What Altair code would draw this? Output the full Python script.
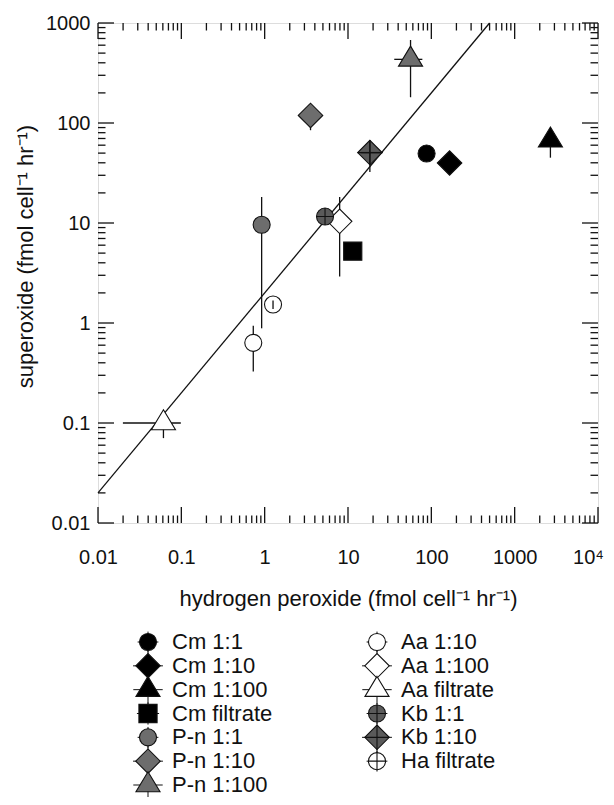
import altair as alt
import pandas as pd

# ---- data ----
labels = ["Cm 1:1", "Cm 1:10", "Cm 1:100", "Cm filtrate",
          "P-n 1:1", "P-n 1:10", "P-n 1:100",
          "Aa 1:10", "Aa 1:100", "Aa filtrate",
          "Kb 1:1", "Kb 1:10", "Ha filtrate"]
h2o2 = [87.7, 165.6, 2685, 11.4, 0.92, 3.55, 56.3, 0.73, 7.94, 0.061, 5.3, 18.3, 1.26]
superox = [49.5, 39.8, 67.3, 5.23, 9.6, 119, 433, 0.633, 10.4, 0.1, 11.6, 50.6, 1.53]
h2o2_lo = [None, None, None, None, None, None, 35.9, None, None, 0.0199, None, 14.4, None]
h2o2_hi = [None, None, None, None, None, None, 78.0, None, None, 0.0986, None, 26.0, None]
sup_lo = [None, None, 45.0, None, 0.885, 84.7, 181, 0.328, 2.92, 0.0706, None, 32.4, 1.38]
sup_hi = [None, None, 67.3, None, 18.2, 119, 676, 0.94, 18.2, 0.1, None, 67.2, 1.68]

fit_x = [0.01, 500]
fit_y = [0.02, 1000]

x_major = [0.01, 0.1, 1, 10, 100, 1000, 10000]
y_major = [0.01, 0.1, 1, 10, 100, 1000]
x_minor = [m * 10.0 ** e for e in range(-2, 4) for m in range(2, 10)]
y_minor = [m * 10.0 ** e for e in range(-2, 3) for m in range(2, 10)]

# ---- styles ----
INK = "#111111"
TRI = "M0,-1.1L1,0.56L-1,0.56Z"
CROSS = "M-1,0L1,0M0,-1L0,1"
STUB = "M0,-1.22L0,1.22M-1.22,0L1.22,0"
shape_of = {"circle": "circle", "diamond": "diamond", "triangle": TRI, "square": "square"}
size_of = {"circle": 290, "diamond": 600, "triangle": 580, "square": 330}
kinds = ["circle", "diamond", "triangle", "square", "circle", "diamond", "triangle",
         "circle", "diamond", "triangle", "circle", "diamond", "circle"]
fills = ["#000000"] * 4 + ["#6d6d6d"] * 3 + ["#ffffff"] * 3 + ["#5a5a5a"] * 2 + ["#ffffff"]

shape_scale = alt.Scale(domain=labels, range=[shape_of[k] for k in kinds])
fill_scale = alt.Scale(domain=labels, range=fills)
SIZE_EXPR = "[{}][indexof([{}], datum.label)]".format(
    ",".join(str(size_of[k]) for k in kinds),
    ",".join("'" + s + "'" for s in labels))

W, H = 500, 500
FONT = "Liberation Sans"

df = pd.DataFrame({"label": labels, "hp": h2o2, "so": superox,
                   "hlo": h2o2_lo, "hhi": h2o2_hi, "slo": sup_lo, "shi": sup_hi})
on_top = ["Kb 1:1", "Kb 1:10", "Ha filtrate"]
df["top"] = df["label"].isin(on_top)

xs = alt.Scale(type="log", domain=[0.01, 10000], nice=False)
ys = alt.Scale(type="log", domain=[0.01, 1000], nice=False)

x_axis = alt.Axis(values=x_major, ticks=False, tickSize=0, domain=False, grid=False,
                  labelExpr="datum.value >= 10000 ? '10⁴' : format(datum.value, '~g')",
                  labelOffset={"condition": {"test": "datum.value >= 10000", "value": -10},
                               "value": 0},
                  labelFontSize=20, labelPadding=24, labelFlush=False, labelOverlap=False,
                  labelColor=INK, title="hydrogen peroxide (fmol cell⁻¹ hr⁻¹)",
                  titleFontSize=22, titleFontWeight="normal", titleColor=INK, titlePadding=21)
y_axis = alt.Axis(values=y_major, ticks=False, tickSize=0, domain=False, grid=False,
                  labelExpr="format(datum.value, '~g')",
                  labelFontSize=20, labelPadding=8, labelFlush=False, labelOverlap=False,
                  labelColor=INK, title="superoxide (fmol cell⁻¹ hr⁻¹)",
                  titleFontSize=22, titleFontWeight="normal", titleColor=INK, titlePadding=8,
                  titleY=233)

X = lambda f: alt.X(f, scale=xs, axis=x_axis)
Y = lambda f: alt.Y(f, scale=ys, axis=y_axis)
SZ = alt.Size("sz:Q", scale=None, legend=None)

base = alt.Chart(df)

vbars = df.dropna(subset=["slo"])
hbars = df.dropna(subset=["hlo"])


def vbar_layer(top):
    d = vbars[vbars["top"] == top]
    return alt.Chart(d).mark_rule(color=INK, strokeWidth=1.3).encode(
        x=X("hp:Q"), y=Y("slo:Q"), y2="shi:Q")


def hbar_layer(top):
    d = hbars[hbars["top"] == top]
    return alt.Chart(d).mark_rule(color=INK, strokeWidth=1.3).encode(
        x=X("hlo:Q"), x2="hhi:Q", y=Y("so:Q"))


points = base.transform_calculate(sz=SIZE_EXPR).mark_point(
    filled=True, stroke=INK, strokeWidth=1.1, opacity=1).encode(
    x=X("hp:Q"), y=Y("so:Q"),
    shape=alt.Shape("label:N", scale=shape_scale, legend=None),
    fill=alt.Fill("label:N", scale=fill_scale, legend=None),
    size=SZ,
)

crosses = base.transform_filter(
    alt.FieldOneOfPredicate(field="label", oneOf=["Kb 1:1", "Kb 1:10"])
).transform_calculate(sz=SIZE_EXPR).mark_point(
    shape=CROSS, filled=False, stroke=INK, strokeWidth=1.1, opacity=1).encode(
    x=X("hp:Q"), y=Y("so:Q"), size=SZ,
)

fit = alt.Chart(pd.DataFrame({"fx": fit_x, "fy": fit_y})).mark_line(
    color=INK, strokeWidth=1.3).encode(x=X("fx:Q"), y=Y("fy:Q"))


def yticks(vals, length):
    d = pd.DataFrame({"v": vals})
    left = alt.Chart(d).mark_rule(color=INK, strokeWidth=1.3).encode(
        y=Y("v:Q"), x=alt.value(0), x2=alt.value(length))
    right = alt.Chart(d).mark_rule(color=INK, strokeWidth=1.3).encode(
        y=Y("v:Q"), x=alt.value(W), x2=alt.value(W - length))
    return [left, right]


def xticks(vals, length):
    d = pd.DataFrame({"v": vals})
    bottom = alt.Chart(d).mark_rule(color=INK, strokeWidth=1.3).encode(
        x=X("v:Q"), y=alt.value(H), y2=alt.value(H - length))
    top = alt.Chart(d).mark_rule(color=INK, strokeWidth=1.3).encode(
        x=X("v:Q"), y=alt.value(0), y2=alt.value(length))
    return [bottom, top]


tick_layers = (yticks(y_major, 16) + yticks(y_minor, 7.5)
               + xticks(x_major, 16) + xticks(x_minor, 7.5))

main = alt.layer(
    *tick_layers,
    fit,
    vbar_layer(False), hbar_layer(False),
    points,
    crosses,
    vbar_layer(True), hbar_layer(True),
)

# ---- legend (two columns below the plot) ----
leg = pd.DataFrame({"label": labels})
leg["col"] = leg.index // 7
leg["row"] = leg.index % 7
lx = alt.X("col:Q", scale=alt.Scale(domain=[0, 1], range=[50, 279]), axis=None)
ly = alt.Y("row:Q", scale=alt.Scale(domain=[0, 6], range=[619, 762]), axis=None)
lbase = alt.Chart(leg).transform_calculate(sz=SIZE_EXPR)

leg_stub = lbase.mark_point(shape=STUB, filled=False, stroke=INK, strokeWidth=1.0,
                            opacity=1).encode(x=lx, y=ly, size=SZ)
leg_sym = lbase.mark_point(filled=True, stroke=INK, strokeWidth=1.1, opacity=1).encode(
    x=lx, y=ly,
    shape=alt.Shape("label:N", scale=shape_scale, legend=None),
    fill=alt.Fill("label:N", scale=fill_scale, legend=None),
    size=SZ)
leg_cross = lbase.transform_filter(
    alt.FieldOneOfPredicate(field="label", oneOf=["Kb 1:1", "Kb 1:10", "Ha filtrate"])
).mark_point(shape=CROSS, filled=False, stroke=INK, strokeWidth=1.1, opacity=1).encode(
    x=lx, y=ly, size=SZ)
leg_text = lbase.mark_text(align="left", baseline="middle", dx=24, fontSize=22,
                           color=INK, font=FONT).encode(x=lx, y=ly, text="label:N")

legend = alt.layer(leg_stub, leg_sym, leg_cross, leg_text)

chart = alt.layer(main, legend).resolve_scale(
    x="independent", y="independent"
).properties(
    width=W, height=H,
    autosize=alt.AutoSizeParams(type="none"),
    padding={"left": 90, "top": 15, "right": 8, "bottom": 274},
).configure_view(
    stroke=INK, strokeWidth=1.5
).configure(
    font=FONT
)

chart.save("out.html", embed_options={"renderer": "svg", "actions": False})
